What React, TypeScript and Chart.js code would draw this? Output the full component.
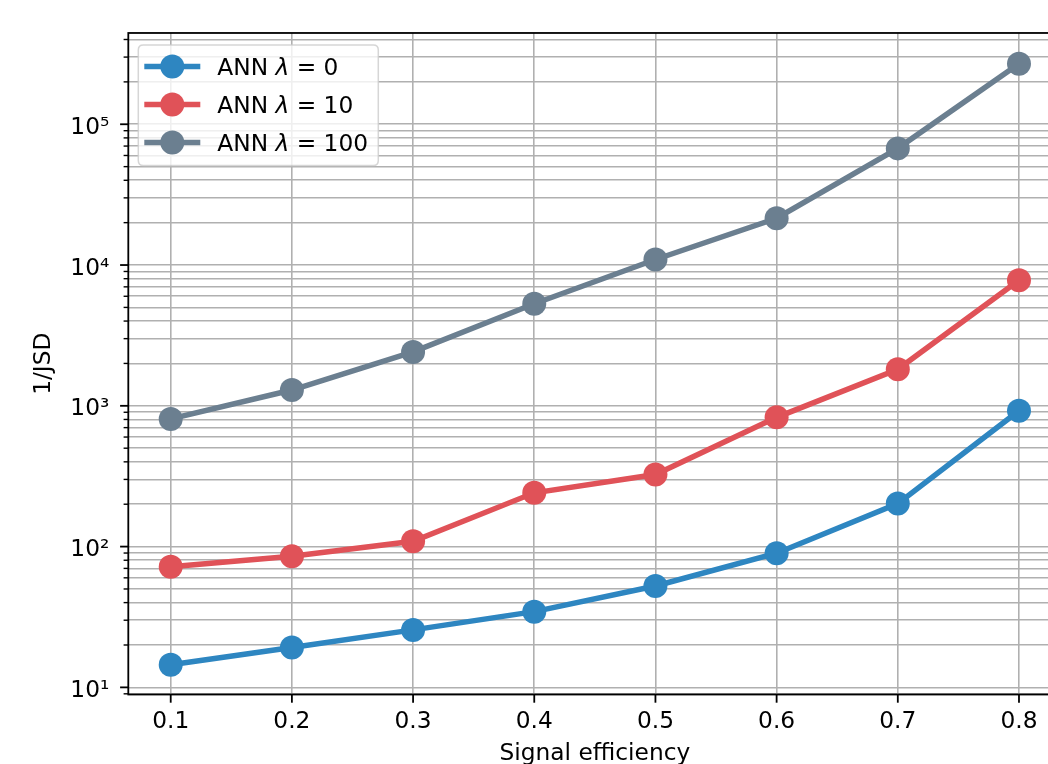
import React, { useEffect, useRef } from "react";
import { Chart, registerables } from "chart.js";

Chart.register(...registerables);

// ---- data ----
const signalEfficiency = [0.1, 0.2, 0.3, 0.4, 0.5, 0.6, 0.7, 0.8];
const seriesLabels = ["ANN λ = 0", "ANN λ = 10", "ANN λ = 100"];
const annLambda0 = [14.5, 19.2, 25.6, 34.5, 52.5, 89.8, 202, 923];
const annLambda10 = [71.8, 85.5, 109, 241, 325, 828, 1820, 7800];
const annLambda100 = [807, 1295, 2415, 5310, 10950, 21500, 67400, 269000];
const seriesColors = ["#2E86C1", "#E05258", "#6B7F90"];
const xTickValues = [0.1, 0.2, 0.3, 0.4, 0.5, 0.6, 0.7, 0.8];
const yDecades = [1, 2, 3, 4, 5];
const xTitle = "Signal efficiency";
const yTitle = "1/JSD";

const FONT = "DejaVu Sans";
const FS = 23.3;

const SUP: Record<string, string> = {
  "0": "⁰", "1": "¹", "2": "²", "3": "³", "4": "⁴",
  "5": "⁵", "6": "⁶", "7": "⁷", "8": "⁸", "9": "⁹", "-": "⁻",
};
const isDecade = (v: number) => {
  const e = Math.log10(v);
  return Math.abs(e - Math.round(e)) < 1e-9;
};

const overlay = {
  id: "mplOverlay",
  afterDraw(chart: any) {
    const { ctx, chartArea: a, scales } = chart;
    const xs = scales.x;
    const ys = scales.y;
    ctx.save();
    // spines
    ctx.strokeStyle = "#000";
    ctx.lineWidth = 1.8;
    ctx.strokeRect(a.left, a.top, a.right - a.left, a.bottom - a.top);
    // x tick marks
    xs.ticks.forEach((t: any) => {
      const px = xs.getPixelForValue(t.value);
      ctx.beginPath();
      ctx.moveTo(px, a.bottom);
      ctx.lineTo(px, a.bottom + 8.2);
      ctx.stroke();
    });
    // y tick marks
    ys.ticks.forEach((t: any) => {
      const py = ys.getPixelForValue(t.value);
      const major = isDecade(t.value);
      ctx.lineWidth = major ? 1.8 : 1.4;
      const len = major ? 8.2 : 4.7;
      ctx.beginPath();
      ctx.moveTo(a.left - len, py);
      ctx.lineTo(a.left, py);
      ctx.stroke();
    });

    // legend
    const bx = a.left + 10;
    const by = a.top + 12;
    const bw = 240;
    const bh = 120.6;
    const r = 5;
    ctx.beginPath();
    ctx.moveTo(bx + r, by);
    ctx.lineTo(bx + bw - r, by);
    ctx.quadraticCurveTo(bx + bw, by, bx + bw, by + r);
    ctx.lineTo(bx + bw, by + bh - r);
    ctx.quadraticCurveTo(bx + bw, by + bh, bx + bw - r, by + bh);
    ctx.lineTo(bx + r, by + bh);
    ctx.quadraticCurveTo(bx, by + bh, bx, by + bh - r);
    ctx.lineTo(bx, by + r);
    ctx.quadraticCurveTo(bx, by, bx + r, by);
    ctx.closePath();
    ctx.fillStyle = "rgba(255,255,255,0.8)";
    ctx.fill();
    ctx.strokeStyle = "rgba(204,204,204,0.8)";
    ctx.lineWidth = 1.5;
    ctx.stroke();

    chart.data.datasets.forEach((ds: any, i: number) => {
      const rowY = by + 21.5 + i * 38;
      ctx.strokeStyle = ds.borderColor;
      ctx.lineWidth = ds.borderWidth;
      ctx.beginPath();
      ctx.moveTo(bx + 6, rowY);
      ctx.lineTo(bx + 62, rowY);
      ctx.stroke();
      ctx.fillStyle = ds.pointBackgroundColor;
      ctx.beginPath();
      ctx.arc(bx + 34, rowY, ds.pointRadius, 0, Math.PI * 2);
      ctx.fill();

      const label: string = ds.label;
      const [pre, post] = label.split("λ");
      const base = rowY + 8.5;
      let tx = bx + 79;
      ctx.fillStyle = "#000";
      ctx.textBaseline = "alphabetic";
      ctx.textAlign = "left";
      ctx.font = `${FS}px "${FONT}"`;
      ctx.fillText(pre, tx, base);
      tx += ctx.measureText(pre).width;
      ctx.font = `italic ${FS}px "${FONT}"`;
      ctx.fillText("λ", tx, base);
      tx += ctx.measureText("λ").width;
      ctx.font = `${FS}px "${FONT}"`;
      ctx.fillText(post, tx, base);
    });
    ctx.restore();
  },
};

export default function App() {
  const ref = useRef<HTMLCanvasElement | null>(null);

  useEffect(() => {
    if (!ref.current) return;
    const series = [annLambda0, annLambda10, annLambda100];
    const chart = new Chart(ref.current, {
      type: "line",
      data: {
        datasets: series.map((vals, i) => ({
          label: seriesLabels[i],
          data: signalEfficiency.map((x, j) => ({ x, y: vals[j] })),
          borderColor: seriesColors[i],
          backgroundColor: seriesColors[i],
          pointBackgroundColor: seriesColors[i],
          pointBorderWidth: 0,
          pointRadius: 12,
          borderWidth: 5.5,
          tension: 0,
          fill: false,
        })),
      },
      options: {
        animation: false,
        responsive: false,
        devicePixelRatio: 1,
        layout: { padding: { top: 30.7, right: 38.6, left: 0, bottom: 0 } },
        plugins: {
          legend: { display: false },
          tooltip: { enabled: false },
        },
        scales: {
          x: {
            type: "linear",
            min: 0.065,
            max: 0.835,
            afterBuildTicks: (s: any) => {
              s.ticks = xTickValues.map((v) => ({ value: v }));
            },
            afterFit: (s: any) => {
              s.height = 800 - 694.5;
            },
            grid: { color: "#b0b0b0", lineWidth: 1.6, drawTicks: false },
            border: { display: false },
            ticks: {
              autoSkip: false,
              maxRotation: 0,
              padding: 13,
              color: "#000",
              font: { family: FONT, size: FS },
              callback: (v: any) => Number(v).toFixed(1),
            },
            title: {
              display: true,
              text: xTitle,
              color: "#000",
              font: { family: FONT, size: FS },
              padding: { top: 0, bottom: 32 },
            },
          },
          y: {
            type: "logarithmic",
            min: 8.9,
            max: 445000,
            afterBuildTicks: (s: any) => {
              const ticks: any[] = [];
              for (let d = 0; d <= yDecades[yDecades.length - 1]; d++) {
                for (let m = 1; m <= 9; m++) {
                  const v = m * Math.pow(10, d);
                  if (v >= s.min && v <= s.max) ticks.push({ value: v });
                }
              }
              s.ticks = ticks;
            },
            afterFit: (s: any) => {
              s.width = 128.3;
            },
            grid: { color: "#b0b0b0", lineWidth: 1.6, drawTicks: false },
            border: { display: false },
            ticks: {
              autoSkip: false,
              padding: 19,
              labelOffset: 3.5,
              color: "#000",
              font: { family: FONT, size: FS },
              callback: (v: any) => {
                const n = Number(v);
                if (!isDecade(n)) return "";
                const e = String(Math.round(Math.log10(n)));
                return "10" + e.split("").map((c) => SUP[c]).join("");
              },
            },
            title: {
              display: true,
              text: yTitle,
              color: "#000",
              font: { family: FONT, size: FS },
              padding: { top: 30, bottom: 0 },
            },
          },
        },
      },
      plugins: [overlay],
    });
    return () => chart.destroy();
  }, []);

  return (
    <div
      style={{
        position: "fixed",
        left: 0,
        top: 0,
        width: 1048,
        height: 764,
        overflow: "hidden",
        background: "#fff",
      }}
    >
      <canvas
        ref={ref}
        width={1100}
        height={800}
        style={{ display: "block", width: "1100px", height: "800px" }}
      />
    </div>
  );
}
